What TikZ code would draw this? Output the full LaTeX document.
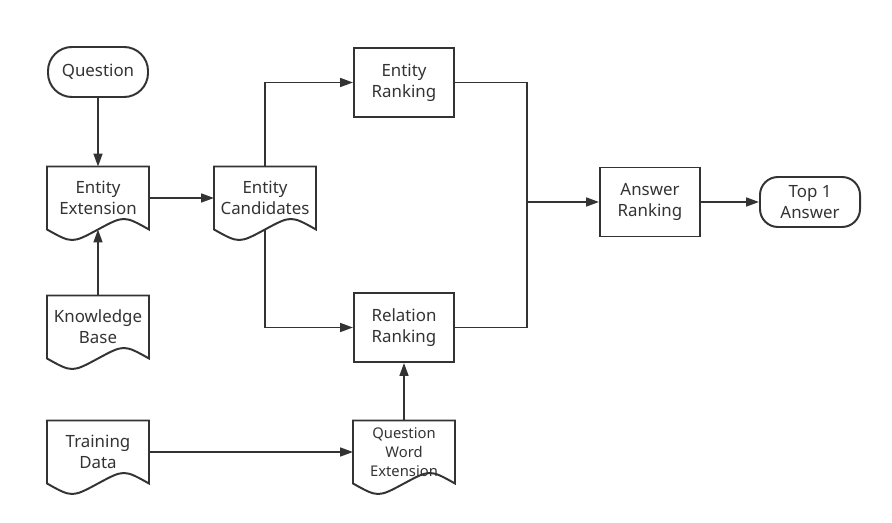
\documentclass[tikz,border=0pt]{standalone}
\usepackage{fontspec}
\setmainfont{Noto Sans}
\usetikzlibrary{arrows.meta}

\definecolor{inkgray}{HTML}{333333}

\tikzset{
  box/.style={draw=inkgray, line width=1.4pt, minimum width=2.5cm, minimum height=1.725cm,
    align=center, text=inkgray, font=\fontsize{12}{15}\selectfont},
  term/.style={box, rounded corners=0.45cm, minimum height=1.25cm},
  docbox/.style={box, draw=none, minimum height=1.525cm},
  doc/.style={draw=inkgray, line width=1.4pt},
  link/.style={draw=inkgray, line width=1.4pt},
  arrow/.style={link, -{Triangle[length=3.2mm,width=2.2mm]}}
}

\begin{document}
\begin{tikzpicture}[x=0.025cm,y=-0.025cm]
  \useasboundingbox (0,0) rectangle (892,523);

  % Start / end
  \node[term, rounded corners=0.6cm] (question) at (98,72) {Question};
  \node[term] (top) at (810,202) {Top 1\\Answer};

  % Documents
  \node[docbox] (ext) at (98,198) {Entity\\Extension};
  \node[docbox] (kb) at (98,327) {Knowledge\\Base};
  \node[docbox] (train) at (98,452) {Training\\Data};
  \node[docbox] (cand) at (265,198) {Entity\\Candidates};
  \node[docbox, font=\fontsize{10.5}{13.6}\selectfont] (qwe) at (404,452) {Question\\Word\\Extension};

  \foreach \n in {ext,kb,train,cand,qwe}
    \draw[doc] (\n.north west) -- (\n.north east) -- (\n.south east)
      .. controls ([xshift=-0.625cm,yshift=0.35cm]\n.south east) .. (\n.south)
      .. controls ([xshift=0.625cm,yshift=-0.35cm]\n.south west) .. (\n.south west) -- cycle;

  % Processes
  \node[box] (erank) at (404,82.5) {Entity\\Ranking};
  \node[box] (rrank) at (404,327.5) {Relation\\Ranking};
  \node[box] (arank) at (650,202) {Answer\\Ranking};

  % Connectors
  \draw[arrow] (question) -- (ext);
  \draw[arrow] (kb) -- (ext.south);
  \draw[arrow] (ext) -- (cand);
  \draw[arrow] (cand.north) |- (erank.west);
  \draw[arrow] (cand.south) |- (rrank.west);
  \draw[arrow] (train.east) -- (qwe.west);
  \draw[arrow] (qwe) -- (rrank);

  \coordinate (join) at (527,202);
  \draw[link] (erank.east) -| (join);
  \draw[link] (rrank.east) -| (join);
  \draw[arrow] (join) -- (arank.west);
  \draw[arrow] (arank) -- (top);
\end{tikzpicture}
\end{document}
